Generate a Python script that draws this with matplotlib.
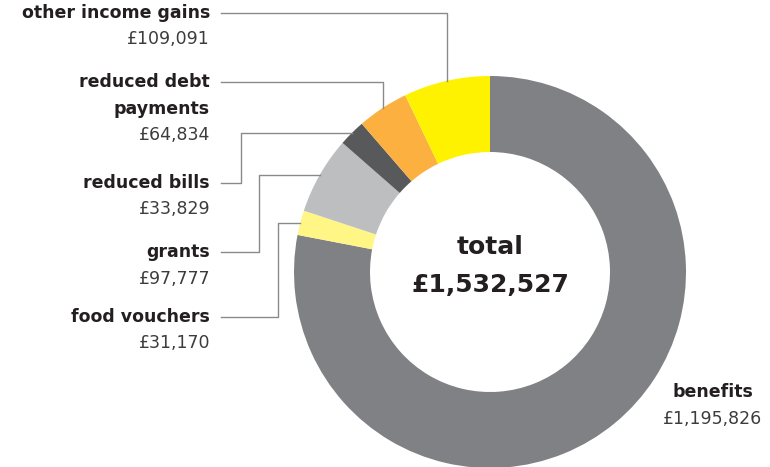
import numpy as np
import matplotlib.pyplot as plt

# ----- Data (clockwise from 12 o'clock) -----
categories = ["benefits", "food vouchers", "grants", "reduced bills",
              "reduced debt\npayments", "other income gains"]
values = [1195826, 31170, 97777, 33829, 64834, 109091]
colors = ["#808184", "#FFF685", "#BCBEC0", "#58595B", "#FBB040", "#FFF200"]
total = sum(values)

# ----- Layout (pixels, measured from top-left) -----
W, H = 770, 467
cx, cy = 490, 272
R, ring = 196, 76
label_x = 210          # right edge of the left-hand labels
line_start = 221       # where the leader lines begin
pitch = 26.5           # line spacing of the labels
line_col = "#8a8a8a"
txt_col = "#231f20"
val_col = "#3c3c3c"
fs = 12.5


def fy(y):
    return H - y


fig = plt.figure(figsize=(W / 100, H / 100), dpi=100)
ax = fig.add_axes([0, 0, 1, 1])

wedges, _ = ax.pie(values, colors=colors, startangle=90, counterclock=False,
                   center=(cx, fy(cy)), radius=R,
                   wedgeprops=dict(width=ring, linewidth=0))
ax.set_xlim(0, W)
ax.set_ylim(0, H)
ax.set_aspect("equal")
ax.axis("off")


def anchor(i):
    w = wedges[i]
    a = np.deg2rad((w.theta1 + w.theta2) / 2)
    return cx + R * np.cos(a), cy - R * np.sin(a)


def label(text, value, y, x=label_x, ha="right"):
    lines = text.split("\n")
    for k, ln in enumerate(lines):
        ax.text(x, fy(y + pitch * k), ln, ha=ha, va="center", fontsize=fs,
                fontweight="bold", color=txt_col)
    ax.text(x, fy(y + pitch * len(lines)), f"£{value:,}", ha=ha,
            va="center", fontsize=fs, color=val_col)


# other income gains / reduced debt: across then down
for i, y in [(5, 13), (4, 82)]:
    axp, ayp = anchor(i)
    ax.plot([line_start, axp, axp], [fy(y), fy(y), fy(ayp)],
            color=line_col, lw=1)
    label(categories[i], values[i], y)

# reduced bills / grants / food vouchers: from wedge, across, down, across
for i, y, ex in [(3, 183, 241), (2, 252, 259), (1, 317, 278)]:
    axp, ayp = anchor(i)
    ax.plot([axp, ex, ex, line_start], [fy(ayp), fy(ayp), fy(y), fy(y)],
            color=line_col, lw=1)
    label(categories[i], values[i], y)

# benefits on the right
label(categories[0], values[0], 392, x=713, ha="center")

# centre total
ax.text(cx, fy(247), "total", ha="center", va="center", fontsize=18,
        fontweight="bold", color=txt_col)
ax.text(cx, fy(285), f"£{total:,}", ha="center", va="center", fontsize=18,
        fontweight="bold", color=txt_col)

fig.savefig("out.png", dpi=100)
